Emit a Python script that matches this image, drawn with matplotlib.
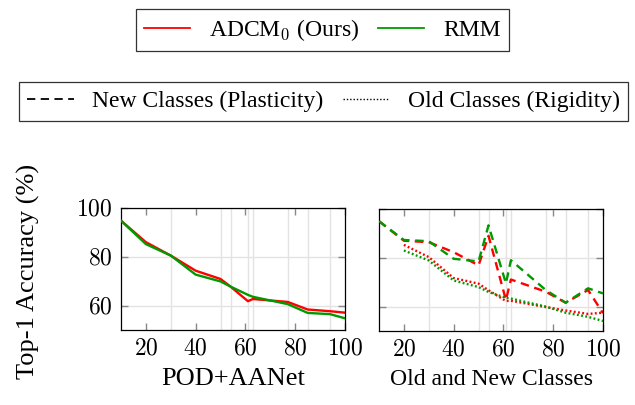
import matplotlib
matplotlib.use("Agg")
import matplotlib.pyplot as plt
from matplotlib.lines import Line2D
from matplotlib.ticker import FuncFormatter

plt.rcParams['font.family'] = ['Liberation Serif', 'DejaVu Serif']
plt.rcParams['mathtext.fontset'] = 'cm'

# ---- data ----
x = [10, 20, 30, 40, 50, 54, 61, 63, 77, 85, 94, 100]
x_old = [20, 30, 40, 50, 54, 61, 63, 77, 85, 94, 100]

# left panel: POD+AANet
left_adcm = [94.8, 86.0, 80.5, 74.3, 70.9, 67.8, 61.8, 62.7, 61.5, 58.4, 57.7, 57.1]
left_rmm = [94.8, 85.2, 80.5, 72.7, 69.9, 67.8, 64.4, 63.6, 60.6, 57.0, 56.5, 54.8]

# right panel: new classes (plasticity)
new_adcm = [95.0, 87.0, 86.4, 82.3, 76.9, 89.0, 62.7, 71.1, 66.1, 61.6, 66.8, 57.3]
new_rmm = [95.0, 87.3, 86.8, 79.6, 78.5, 93.3, 69.5, 79.0, 66.8, 61.6, 67.5, 65.4]
# right panel: old classes (rigidity)
old_adcm = [85.3, 80.3, 71.7, 69.4, 66.7, 62.3, 62.4, 59.8, 58.4, 57.0, 57.5]
old_rmm = [83.0, 78.9, 70.7, 68.0, 66.0, 63.6, 63.3, 60.0, 57.5, 55.8, 54.1]

xticks = [20, 40, 60, 80, 100]
yticks = [60, 80, 100]
xlabels = ["POD+AANet", "Old and New Classes"]
ylabel = "Top-1 Accuracy (%)"
legend1_labels = ["ADCM$_0$ (Ours)", "RMM"]
legend2_labels = ["New Classes (Plasticity)", "Old Classes (Rigidity)"]

RED = '#ff0000'
GREEN = '#009a00'
GRID = '#e3e3e3'
DASH = (0, (3.6, 2.4))
DOT = (0, (0.8, 1.0))

fig = plt.figure(figsize=(6.35, 4.05), dpi=100)
W, H = 635, 405

def make_ax(left_px, top_px, w_px, h_px):
    return fig.add_axes([left_px / W, 1 - (top_px + h_px) / H, w_px / W, h_px / H])

ax1 = make_ax(121, 208, 224, 122)
ax2 = make_ax(379, 209, 224, 122)

fmt = FuncFormatter(lambda v, p: r"$%d$" % v)
for ax in (ax1, ax2):
    ax.set_xlim(10, 100)
    ax.set_ylim(50, 100)
    ax.set_xticks(xticks)
    ax.set_yticks(yticks)
    ax.xaxis.set_major_formatter(fmt)
    ax.yaxis.set_major_formatter(fmt)
    ax.set_xticks(x[1:], minor=True)
    ax.grid(True, which='minor', axis='x', color=GRID, lw=1.0, zorder=0)
    ax.grid(True, which='major', axis='y', color=GRID, lw=1.0, zorder=0)
    ax.tick_params(which='major', direction='in', length=5, width=1.0, color='#888888',
                   top=True, right=True, labelsize=17, pad=6)
    ax.tick_params(which='minor', length=0)
    for s in ax.spines.values():
        s.set_linewidth(0.9)
        s.set_color('black')
    ax.set_axisbelow(True)

LW = 1.7
ax1.plot(x, left_rmm, color=GREEN, lw=LW, zorder=3)
ax1.plot(x, left_adcm, color=RED, lw=LW, zorder=2)

ax2.plot(x, new_rmm, color=GREEN, lw=LW, ls=DASH, zorder=3)
ax2.plot(x, new_adcm, color=RED, lw=LW, ls=DASH, zorder=2)
ax2.plot(x_old, old_rmm, color=GREEN, lw=LW, ls=DOT, zorder=3)
ax2.plot(x_old, old_adcm, color=RED, lw=LW, ls=DOT, zorder=2)
ax2.set_yticklabels([])

fig.text(28 / W, 1 - 271.5 / H, ylabel, rotation=90, ha='center', va='center', fontsize=19)
fig.text(233 / W, 1 - 385 / H, xlabels[0], ha='center', va='baseline', fontsize=19)
fig.text(491 / W, 1 - 385 / H, xlabels[1], ha='center', va='baseline', fontsize=17)

# legends
h1 = [Line2D([], [], color=RED, lw=1.3), Line2D([], [], color=GREEN, lw=1.3)]
leg1 = fig.legend(h1, legend1_labels, loc='center', bbox_to_anchor=(322.5 / W, 1 - 30 / H),
                  ncol=2, fontsize=17, frameon=True, fancybox=False, edgecolor='black',
                  handlelength=1.95, handletextpad=0.8, columnspacing=0.8, borderpad=0.35)
leg1.get_frame().set_linewidth(0.9)

h2 = [Line2D([], [], color='black', lw=1.3, ls=(0, (4.6, 3.0))),
      Line2D([], [], color='black', lw=1.0, ls=(0, (1.0, 1.4)))]
leg2 = fig.legend(h2, legend2_labels, loc='center',
                  bbox_to_anchor=(323.5 / W, 1 - 101.5 / H), ncol=2, fontsize=17, frameon=True,
                  fancybox=False, edgecolor='black', handlelength=1.95, handletextpad=0.8,
                  columnspacing=0.8, borderpad=0.35)
leg2.get_frame().set_linewidth(0.9)

fig.savefig("out.png", dpi=100)
